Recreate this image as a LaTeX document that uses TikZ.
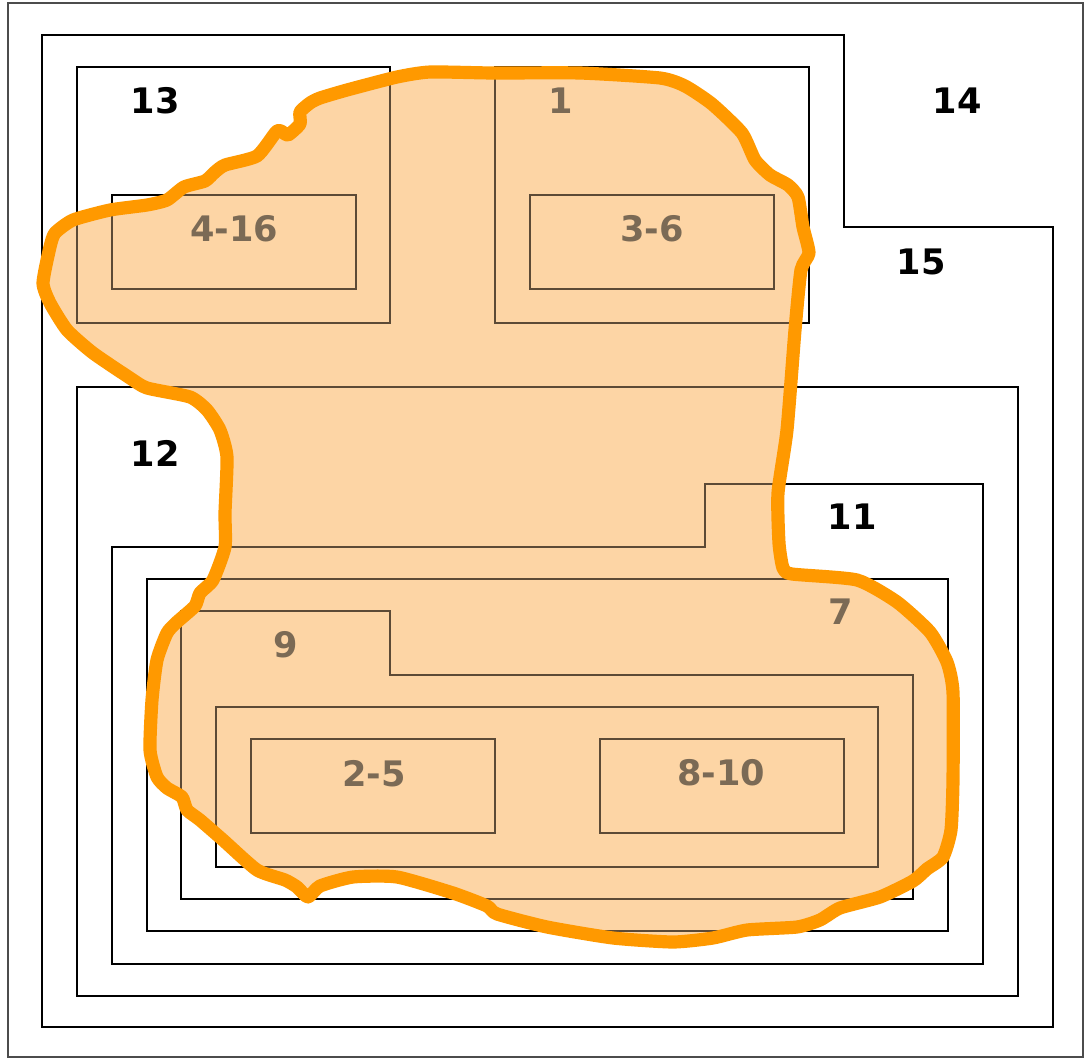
\documentclass[tikz,border=0pt]{standalone}
\usepackage{fontspec}
\setmainfont{DejaVu Sans}

\definecolor{blobline}{HTML}{FF9900}
\definecolor{blobfill}{HTML}{FDD5A5}
\definecolor{innerline}{HTML}{5C4A36}
\definecolor{innertext}{HTML}{7B6A55}

\tikzset{
  regionline/.style={line width=0.8pt},
  regionlabel/.style={font=\fontsize{20}{24}\selectfont\bfseries, inner sep=0pt},
  outlabel/.style={regionlabel, text=black},
  inlabel/.style={regionlabel, text=innertext},
}

% All nested regions, drawn in the colour given
\newcommand{\regionboxes}[1]{%
  \draw[regionline, #1] (42,35) -- (844,35) -- (844,227) -- (1053,227) -- (1053,1027) -- (42,1027) -- cycle;
  \draw[regionline, #1] (77,67) rectangle (390,323);
  \draw[regionline, #1] (495,67) rectangle (809,323);
  \draw[regionline, #1] (112,195) rectangle (356,289);
  \draw[regionline, #1] (530,195) rectangle (774,289);
  \draw[regionline, #1] (77,387) rectangle (1018,996);
  \draw[regionline, #1] (112,547) -- (705,547) -- (705,484) -- (983,484) -- (983,964) -- (112,964) -- cycle;
  \draw[regionline, #1] (147,579) rectangle (948,931);
  \draw[regionline, #1] (181,611) -- (390,611) -- (390,675) -- (913,675) -- (913,899) -- (181,899) -- cycle;
  \draw[regionline, #1] (216,707) rectangle (878,867);
  \draw[regionline, #1] (251,739) rectangle (495,833);
  \draw[regionline, #1] (600,739) rectangle (844,833);
}

% Outline of the highlighted area
\newcommand{\blobpath}{plot[smooth cycle, tension=0.35] coordinates {
  (320,98) (347,90) (397,77) (430,72) (493,73) (580,73) (660,78) (685,86)
  (712,104) (742,133) (755,160) (770,175) (788,185) (798,197) (803,227)
  (809,253) (801,270) (795,330) (787,430) (778,493) (779,543) (783,568)
  (792,574) (857,580) (897,602) (930,632) (947,662) (953,692) (953,780)
  (951,830) (943,857) (927,869) (913,881) (880,897) (840,908) (820,920)
  (797,927) (747,930) (713,938) (673,942) (613,938) (547,927) (497,914)
  (487,906) (453,893) (397,877) (353,877) (320,886) (308,897) (297,887)
  (285,880) (257,870) (223,840) (200,820) (187,810) (182,797) (167,788)
  (157,777) (150,750) (152,700) (157,660) (167,633) (177,622) (195,606)
  (200,593) (213,580) (225,547) (225,513) (227,457) (220,430) (207,410)
  (190,397) (147,388) (130,378) (93,353) (67,330) (50,303) (43,283)
  (50,247) (55,233) (73,220) (110,210) (147,205) (167,200) (184,187)
  (205,181) (215,172) (225,165) (257,156) (276,132) (281,131) (288,135)
  (300,124) (300,112) (310,103)
}}

\begin{document}
\begin{tikzpicture}[x=0.02cm, y=-0.02cm]
  \useasboundingbox (0,0) rectangle (1086,1059);

  % Frame
  \draw[line width=0.8pt, black!70] (8,3) rectangle (1083,1057);

  % Regions
  \regionboxes{black}

  % Highlighted area
  \fill[blobfill] \blobpath;
  \begin{scope}
    \clip \blobpath;
    \regionboxes{innerline}
  \end{scope}
  \draw[blobline, line width=7.5pt, line join=round] \blobpath;

  % Labels outside the highlighted area
  \node[outlabel] (lbl13) at (155,101) {13};
  \node[outlabel] (lbl14) at (957,101) {14};
  \node[outlabel] (lbl15) at (921,262) {15};
  \node[outlabel] (lbl12) at (155,453) {12};
  \node[outlabel] (lbl11) at (852,517) {11};

  % Labels inside the highlighted area
  \node[inlabel] (lbl1) at (561,101) {1};
  \node[inlabel] (lbl416) at (234,229) {4-16};
  \node[inlabel] (lbl36) at (652,229) {3-6};
  \node[inlabel] (lbl7) at (841,612) {7};
  \node[inlabel] (lbl9) at (286,645) {9};
  \node[inlabel] (lbl25) at (374,774) {2-5};
  \node[inlabel] (lbl810) at (721,773) {8-10};
\end{tikzpicture}
\end{document}
